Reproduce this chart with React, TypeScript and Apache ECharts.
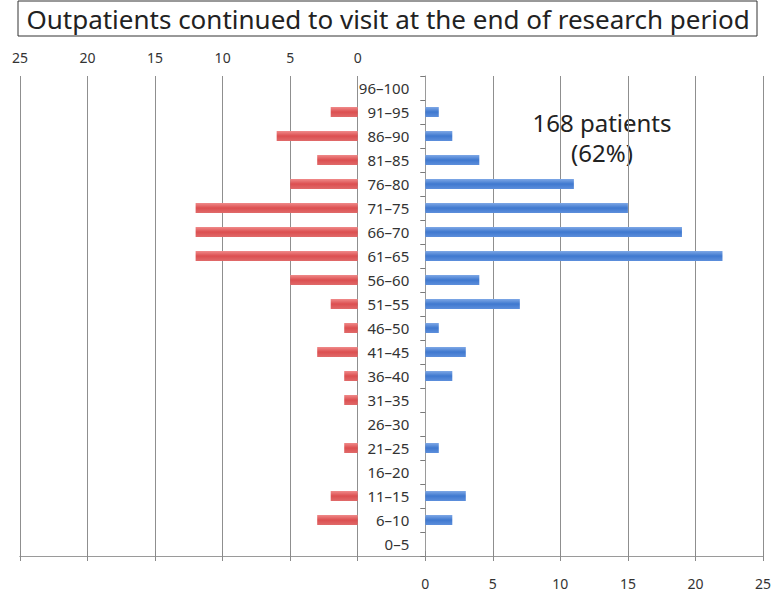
import React, { useEffect, useRef } from 'react';
import * as echarts from 'echarts';

const ageGroups = ['96–100', '91–95', '86–90', '81–85', '76–80', '71–75', '66–70', '61–65', '56–60', '51–55', '46–50', '41–45', '36–40', '31–35', '26–30', '21–25', '16–20', '11–15', '6–10', '0–5'];
const leftValues = [0, 2, 6, 3, 5, 12, 12, 12, 5, 2, 1, 3, 1, 1, 0, 1, 0, 2, 3, 0];
const rightValues = [0, 1, 2, 4, 11, 15, 19, 22, 4, 7, 1, 3, 2, 0, 0, 1, 0, 3, 2, 0];
const axisMax = 25;
const axisStep = 5;
const fullSpan = 55;
const titleText = 'Outpatients continued to visit at the end of research period';
const noteLines = ['168 patients', '(62%)'];

const FONT = '"Noto Sans", "DejaVu Sans", sans-serif';

export default function App() {
  const ref = useRef<HTMLDivElement>(null);
  useEffect(() => {
    if (!ref.current) return;
    const chart = echarts.init(ref.current, null, { renderer: 'svg' });
    const left0 = 20;
    const fullWidth = 743;
    const unit = fullWidth / fullSpan;
    const halfWidth = axisMax * unit;
    const rightLeft = left0 + (fullSpan - axisMax) * unit;
    const top = 76;
    const height = 480;
    const gridLine = { show: true, lineStyle: { color: '#8f8f8f', width: 1 } };
    const redGrad = new echarts.graphic.LinearGradient(0, 0, 0, 1, [
      { offset: 0, color: '#f08a8a' },
      { offset: 0.5, color: '#dc4f50' },
      { offset: 1, color: '#e06a6a' },
    ]);
    const blueGrad = new echarts.graphic.LinearGradient(0, 0, 0, 1, [
      { offset: 0, color: '#7ea8e6' },
      { offset: 0.5, color: '#3f78cf' },
      { offset: 1, color: '#5d8fdc' },
    ]);
    chart.setOption({
      animation: false,
      backgroundColor: '#ffffff',
      grid: [
        { left: left0, top, width: halfWidth, height },
        { left: rightLeft, top, width: halfWidth, height },
        { left: left0, top, width: fullWidth, height },
      ],
      xAxis: [
        {
          gridIndex: 0, type: 'value', min: 0, max: axisMax, interval: axisStep, inverse: true, position: 'top',
          axisLine: { show: false }, axisTick: { show: false },
          axisLabel: { margin: 12, color: '#333', fontSize: 14, fontFamily: FONT },
          splitLine: gridLine,
        },
        {
          gridIndex: 1, type: 'value', min: 0, max: axisMax, interval: axisStep, position: 'bottom',
          axisLine: { show: false }, axisTick: { show: false },
          axisLabel: { margin: 20, color: '#333', fontSize: 14, fontFamily: FONT },
          splitLine: gridLine,
        },
        {
          gridIndex: 2, type: 'value', min: 0, max: fullSpan, interval: axisStep, position: 'top',
          axisLine: { show: true, lineStyle: { color: '#9a9a9a' } },
          axisTick: { show: true, length: 5, lineStyle: { color: '#8a8a8a' } },
          axisLabel: { show: false }, splitLine: { show: false },
        },
        {
          gridIndex: 2, type: 'value', min: 0, max: fullSpan, interval: axisStep, position: 'bottom',
          axisLine: { show: true, lineStyle: { color: '#9a9a9a' } },
          axisTick: { show: true, length: 5, lineStyle: { color: '#8a8a8a' } },
          axisLabel: { show: false }, splitLine: { show: false },
        },
      ],
      yAxis: [
        { gridIndex: 0, type: 'category', data: ageGroups, inverse: true, show: false },
        {
          gridIndex: 1, type: 'category', data: ageGroups, inverse: true,
          axisLine: { show: true, lineStyle: { color: '#9a9a9a' } },
          axisTick: { show: true, length: 5, lineStyle: { color: '#7a7a7a' } },
          axisLabel: { margin: 16, color: '#333', fontSize: 15, fontFamily: FONT },
          splitLine: { show: false },
        },
        { gridIndex: 2, type: 'value', min: 0, max: 1, show: false },
      ],
      series: [
        {
          type: 'bar', xAxisIndex: 0, yAxisIndex: 0, data: leftValues, barWidth: 10,
          itemStyle: { color: redGrad },
        },
        {
          type: 'bar', xAxisIndex: 1, yAxisIndex: 1, data: rightValues, barWidth: 10,
          itemStyle: { color: blueGrad },
        },
      ],
      graphic: [
        {
          type: 'rect', shape: { x: 18, y: 1, width: 739, height: 35 },
          style: { fill: '#ffffff', stroke: '#333333', lineWidth: 1 },
        },
        {
          type: 'text', x: 388, y: 19,
          style: { text: titleText, fontSize: 26, fontFamily: FONT, fill: '#222', textAlign: 'center', textVerticalAlign: 'middle' },
        },
        {
          type: 'text', x: 602, y: 137,
          style: {
            text: noteLines.join('\n'), fontSize: 24, lineHeight: 30, fontFamily: FONT, fill: '#222',
            textAlign: 'center', textVerticalAlign: 'middle',
          },
        },
      ],
    });
    return () => chart.dispose();
  }, []);
  return <div ref={ref} style={{ position: 'fixed', left: 0, top: 0, width: 776, height: 593 }} />;
}
